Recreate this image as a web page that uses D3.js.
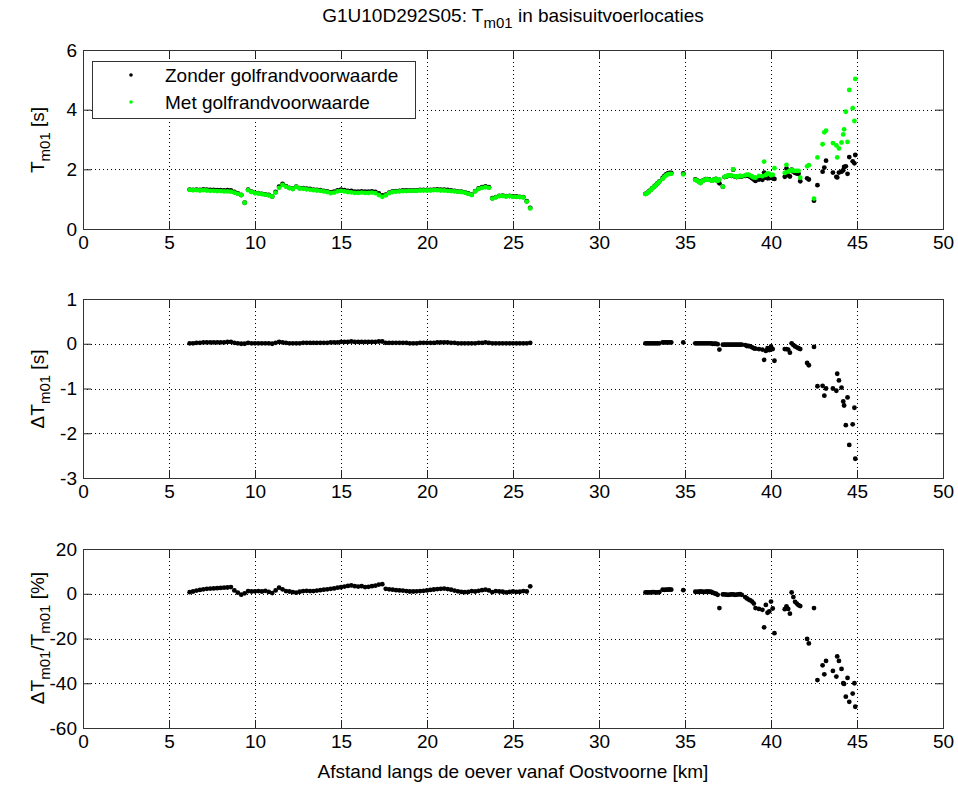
<!DOCTYPE html>
<html>
<head>
<meta charset="utf-8">
<script src="https://cdnjs.cloudflare.com/ajax/libs/d3/7.8.5/d3.min.js"></script>
<style>
body { margin: 0; background: #fff; }
svg { display: block; font-family: "Liberation Sans", Arial, sans-serif; }
</style>
</head>
<body>
<svg id="fig" width="958" height="787"></svg>
<script>
// ---- data ----
var xTicks = [0, 5, 10, 15, 20, 25, 30, 35, 40, 45, 50];
var yTicksT = [0, 2, 4, 6];
var yTicksD = [-3, -2, -1, 0, 1];
var yTicksP = [-60, -40, -20, 0, 20];

// first stretch of the coast (km)
var km1 = [6.2,6.4,6.6,6.8,7.0,7.2,7.4,7.6,7.8,8.0,
    8.2,8.4,8.6,8.8,9.0,9.2,9.4,9.6,9.8,10.0,
    10.2,10.4,10.6,10.8,11.0,11.2,11.4,11.6,11.8,12.0,
    12.2,12.4,12.6,12.8,13.0,13.2,13.4,13.6,13.8,14.0,
    14.2,14.4,14.6,14.8,15.0,15.2,15.4,15.6,15.8,16.0,
    16.2,16.4,16.6,16.8,17.0,17.2,17.4,17.6,17.8,18.0,
    18.2,18.4,18.6,18.8,19.0,19.2,19.4,19.6,19.8,20.0,
    20.2,20.4,20.6,20.8,21.0,21.2,21.4,21.6,21.8,22.0,
    22.2,22.4,22.6,22.8,23.0,23.2,23.4,23.6,23.8,24.0,
    24.2,24.4,24.6,24.8,25.0,25.2,25.4,25.6,25.8,26.0];
var zonder1 = [1.32,1.31,1.32,1.31,1.33,1.32,1.31,1.31,1.30,1.30,
    1.29,1.30,1.29,1.24,1.19,1.14,0.88,1.32,1.25,1.21,
    1.20,1.18,1.16,1.14,1.09,1.24,1.42,1.51,1.44,1.38,
    1.35,1.42,1.37,1.37,1.35,1.34,1.32,1.31,1.30,1.28,
    1.26,1.23,1.25,1.29,1.32,1.30,1.28,1.28,1.25,1.25,
    1.26,1.25,1.25,1.26,1.24,1.19,1.13,1.15,1.22,1.26,
    1.27,1.28,1.29,1.29,1.29,1.29,1.29,1.31,1.31,1.31,
    1.31,1.32,1.33,1.32,1.32,1.31,1.29,1.28,1.26,1.25,
    1.23,1.19,1.15,1.27,1.36,1.40,1.43,1.40,1.03,1.07,
    1.11,1.12,1.10,1.11,1.09,1.09,1.08,1.07,0.93,0.71];
var met1 = [1.31,1.30,1.30,1.29,1.30,1.29,1.28,1.28,1.27,1.27,
    1.26,1.26,1.25,1.22,1.18,1.14,0.88,1.30,1.24,1.20,
    1.19,1.17,1.15,1.13,1.09,1.22,1.38,1.48,1.42,1.37,
    1.34,1.41,1.36,1.35,1.33,1.32,1.30,1.29,1.28,1.26,
    1.24,1.20,1.22,1.26,1.28,1.26,1.24,1.23,1.21,1.21,
    1.22,1.21,1.21,1.22,1.20,1.14,1.08,1.13,1.20,1.24,
    1.25,1.26,1.27,1.27,1.28,1.28,1.28,1.29,1.29,1.29,
    1.29,1.30,1.30,1.29,1.29,1.28,1.27,1.26,1.25,1.24,
    1.22,1.18,1.14,1.26,1.34,1.38,1.40,1.38,1.02,1.06,
    1.10,1.11,1.09,1.10,1.08,1.08,1.07,1.06,0.92,0.69];
var dT1 = [0.01,0.01,0.02,0.02,0.03,0.03,0.03,0.03,0.03,0.03,
    0.03,0.04,0.04,0.02,0.01,0.00,0.00,0.02,0.01,0.01,
    0.01,0.01,0.01,0.01,0.00,0.02,0.04,0.03,0.02,0.01,
    0.01,0.01,0.01,0.02,0.02,0.02,0.02,0.02,0.02,0.02,
    0.02,0.03,0.03,0.03,0.04,0.04,0.04,0.05,0.04,0.04,
    0.04,0.04,0.04,0.04,0.04,0.05,0.05,0.02,0.02,0.02,
    0.02,0.02,0.02,0.02,0.01,0.01,0.01,0.02,0.02,0.02,
    0.02,0.02,0.03,0.03,0.03,0.03,0.02,0.02,0.01,0.01,
    0.01,0.01,0.01,0.01,0.02,0.02,0.03,0.02,0.01,0.01,
    0.01,0.01,0.01,0.01,0.01,0.01,0.01,0.01,0.01,0.02];
var pct1 = [0.7,1.0,1.4,1.7,2.0,2.2,2.3,2.4,2.5,2.6,
    2.7,2.8,3.0,1.5,0.5,-0.4,0.2,1.2,1.0,1.1,
    1.2,1.0,1.3,0.8,0.3,1.5,2.7,2.0,1.2,1.0,
    0.7,0.5,0.9,1.2,1.3,1.2,1.2,1.4,1.6,1.8,
    2.0,2.2,2.4,2.7,2.9,3.2,3.5,3.7,3.4,3.2,
    3.4,3.0,3.1,3.4,3.6,4.1,4.3,2.2,2.0,1.8,
    1.6,1.5,1.4,1.2,1.0,1.0,1.1,1.2,1.3,1.5,
    1.7,1.9,2.1,2.2,2.3,2.1,1.8,1.4,1.1,0.8,
    0.7,0.8,1.2,1.0,1.3,1.6,1.8,1.5,0.7,1.2,
    1.0,0.9,0.6,0.8,1.0,0.8,0.9,1.2,1.0,3.3];

// second stretch (km)
var km2 = [32.7,32.8,32.9,33.0,33.1,33.2,33.3,33.4,33.5,33.7,33.8,33.9,34.0,34.1,34.2,34.9,
    35.6,35.7,35.8,35.9,36.0,36.1,36.2,36.3,36.4,36.5,36.6,36.7,36.8,36.9,37.0,
    37.2,37.3,37.4,37.5,37.6,37.7,37.8,37.9,38.0,38.1,38.2,38.3,
    38.5,38.6,38.7,38.8,38.9,39.0,39.1,39.3,39.5,39.6,39.7,39.8,39.9,40.0,40.1,40.2,
    40.8,40.9,41.0,41.1,41.2,41.3,41.4,41.5,41.6,41.7,
    42.1,42.2,42.5,42.7,43.0,43.1,43.2,43.6,43.8,43.85,43.95,44.1,44.2,44.25,44.35,44.45,44.55,44.75,44.85,44.9];
var zonder2 = [1.18,1.21,1.26,1.31,1.37,1.42,1.47,1.53,1.59,1.71,1.78,1.83,1.86,1.88,1.88,1.86,
    1.66,1.63,1.59,1.55,1.61,1.64,1.67,1.67,1.66,1.64,1.63,1.66,1.68,1.60,1.53,
    1.42,1.74,1.76,1.78,1.79,1.78,1.99,1.76,1.74,1.75,1.77,1.76,
    1.78,1.79,1.78,1.74,1.70,1.66,1.61,1.66,1.65,1.89,1.72,1.70,1.71,1.74,1.70,1.68,
    1.75,2.03,1.80,1.76,1.99,1.92,1.88,1.86,1.85,1.60,
    1.70,1.66,0.95,1.47,1.92,2.06,2.29,1.89,1.75,1.73,1.89,1.92,1.97,2.08,2.10,1.85,2.41,2.27,2.20,2.48];
var met2 = [1.17,1.20,1.25,1.30,1.36,1.41,1.46,1.52,1.58,1.68,1.75,1.80,1.83,1.85,1.85,1.83,
    1.65,1.62,1.58,1.54,1.60,1.63,1.66,1.66,1.65,1.63,1.62,1.66,1.68,1.61,1.66,
    1.42,1.75,1.77,1.79,1.80,1.79,2.00,1.77,1.75,1.76,1.78,1.77,
    1.80,1.82,1.82,1.79,1.76,1.73,1.72,1.78,1.77,2.26,1.81,1.86,1.85,1.80,1.82,2.04,
    1.88,2.15,1.92,1.96,1.98,1.95,1.95,1.95,1.95,1.72,
    2.10,2.14,1.02,2.40,2.84,3.24,3.30,2.88,2.80,2.40,2.70,2.90,3.17,3.34,3.93,2.92,4.66,4.05,3.62,5.03];
var dT2 = [0.01,0.01,0.01,0.01,0.01,0.01,0.01,0.01,0.01,0.03,0.03,0.03,0.03,0.03,0.03,0.03,
    0.01,0.01,0.01,0.01,0.01,0.01,0.01,0.01,0.01,0.01,0.00,0.00,0.00,-0.01,-0.13,
    -0.02,-0.02,-0.02,-0.02,-0.02,-0.02,-0.02,-0.02,-0.02,-0.02,-0.02,-0.02,
    -0.03,-0.05,-0.05,-0.06,-0.08,-0.10,-0.11,-0.12,-0.13,-0.36,-0.16,-0.10,-0.14,-0.06,-0.12,-0.38,
    -0.12,-0.12,-0.13,-0.20,0.01,-0.03,-0.06,-0.08,-0.10,-0.12,
    -0.43,-0.48,-0.07,-0.95,-0.94,-1.16,-1.00,-1.00,-1.05,-0.67,-0.82,-0.98,-1.29,-1.38,-1.82,-1.20,-2.26,-1.80,-1.43,-2.57];
var pct2 = [0.6,0.6,0.6,0.6,0.7,0.7,0.6,0.6,0.7,1.8,1.7,1.8,1.8,1.9,1.8,1.6,
    0.9,0.8,0.9,1.0,0.9,0.8,0.9,1.0,0.9,0.9,0.6,0.2,0.0,-0.5,-6.4,
    -0.3,-0.3,-0.4,-0.5,-0.4,-0.3,-0.3,-0.5,-0.4,-0.3,-0.2,-0.5,
    -1.5,-2.1,-2.6,-3.0,-3.5,-4.4,-6.4,-6.8,-7.2,-15.0,-5.0,-8.5,-7.9,-3.5,-6.6,-17.6,
    -6.9,-5.6,-6.8,-8.9,0.6,-1.5,-3.6,-4.4,-5.1,-5.5,
    -20.2,-22.2,-6.4,-38.6,-32.0,-36.0,-30.0,-34.5,-37.0,-28.0,-30.0,-33.6,-40.0,-40.3,-46.0,-37.6,-48.3,-44.6,-40.0,-50.5];

var seriesNames = ["Zonder golfrandvoorwaarde", "Met golfrandvoorwaarde"];
var seriesColors = ["#000000", "#00ff00"];

// ---- layout ----
var svg = d3.select("#fig");
var left = 83, right = 943, panelH = 179;
var tops = [50, 299, 549];
var fontSize = 19;

var x = d3.scaleLinear().domain([0, 50]).range([left, right]);

function pairs(xs, ys) {
    return xs.map(function(d, i) { return [d, ys[i]]; });
}

function plain(d) { return String(d); }

function drawPanel(top, yDomain, yTicks, series) {
    var y = d3.scaleLinear().domain(yDomain).range([top + panelH, top]);
    var g = svg.append("g");

    // dotted grid
    g.selectAll("line.gx").data(xTicks.slice(1, -1)).enter().append("line")
        .attr("x1", function(d) { return Math.round(x(d)) + 0.5; })
        .attr("x2", function(d) { return Math.round(x(d)) + 0.5; })
        .attr("y1", top).attr("y2", top + panelH)
        .attr("stroke", "#000").attr("stroke-dasharray", "1,3").attr("stroke-width", 1);
    g.selectAll("line.gy").data(yTicks.slice(1, -1)).enter().append("line")
        .attr("y1", function(d) { return Math.round(y(d)) + 0.5; })
        .attr("y2", function(d) { return Math.round(y(d)) + 0.5; })
        .attr("x1", left).attr("x2", right)
        .attr("stroke", "#000").attr("stroke-dasharray", "1,3").attr("stroke-width", 1);

    // data points
    series.forEach(function(s) {
        g.append("g").selectAll("circle").data(s.pts).enter().append("circle")
            .attr("cx", function(d) { return x(d[0]); })
            .attr("cy", function(d) { return y(d[1]); })
            .attr("r", 2.4)
            .attr("fill", s.color);
    });

    // axes with inward ticks on all four sides
    g.append("g").attr("transform", "translate(0," + (top + panelH) + ")")
        .call(d3.axisBottom(x).tickValues(xTicks).tickSizeInner(-8).tickSizeOuter(0)
            .tickPadding(7).tickFormat(plain));
    g.append("g").attr("transform", "translate(0," + top + ")")
        .call(d3.axisTop(x).tickValues(xTicks).tickSizeInner(-8).tickSizeOuter(0).tickFormat(""));
    g.append("g").attr("transform", "translate(" + left + ",0)")
        .call(d3.axisLeft(y).tickValues(yTicks).tickSizeInner(-8).tickSizeOuter(0)
            .tickPadding(6).tickFormat(plain));
    g.append("g").attr("transform", "translate(" + right + ",0)")
        .call(d3.axisRight(y).tickValues(yTicks).tickSizeInner(-8).tickSizeOuter(0).tickFormat(""));

    g.selectAll(".domain").remove();
    g.selectAll(".tick line").attr("stroke", "#222");
    g.selectAll(".tick text").attr("font-size", fontSize).attr("fill", "#000")
        .attr("font-family", "Liberation Sans, Arial, sans-serif");

    g.append("rect")
        .attr("x", left + 0.5).attr("y", top + 0.5)
        .attr("width", right - left).attr("height", panelH)
        .attr("fill", "none").attr("stroke", "#333");
    return g;
}

// rotated y label with subscripts; parts = [[text, isSub], ...]
function yLabel(cx, cy, parts) {
    var t = svg.append("text")
        .attr("transform", "translate(" + cx + "," + cy + ") rotate(-90)")
        .attr("text-anchor", "middle")
        .attr("font-size", fontSize);
    var down = false;
    parts.forEach(function(p) {
        var ts = t.append("tspan").text(p[0]);
        if (p[1]) {
            ts.attr("font-size", 15);
            if (!down) { ts.attr("dy", 6); down = true; }
        } else if (down) {
            ts.attr("dy", -6); down = false;
        }
    });
}

drawPanel(tops[0], [0, 6], yTicksT, [
    { color: seriesColors[0], pts: pairs(km1, zonder1).concat(pairs(km2, zonder2)) },
    { color: seriesColors[1], pts: pairs(km1, met1).concat(pairs(km2, met2)) }
]);
drawPanel(tops[1], [-3, 1], yTicksD, [
    { color: "#000", pts: pairs(km1, dT1).concat(pairs(km2, dT2)) }
]);
drawPanel(tops[2], [-60, 20], yTicksP, [
    { color: "#000", pts: pairs(km1, pct1).concat(pairs(km2, pct2)) }
]);

// legend
var leg = svg.append("g");
leg.append("rect").attr("x", 92.5).attr("y", 61.5).attr("width", 323).attr("height", 57)
    .attr("fill", "#fff").attr("stroke", "#333");
seriesNames.forEach(function(name, i) {
    var cy = 75 + i * 27;
    leg.append("circle").attr("cx", 131).attr("cy", cy).attr("r", 1.8).attr("fill", seriesColors[i]);
    leg.append("text").attr("x", 165).attr("y", cy + 7).attr("font-size", fontSize).text(name);
});

// labels
yLabel(44, 140, [["T", false], ["m01", true], [" [s]", false]]);
yLabel(44, 389, [["\u0394T", false], ["m01", true], [" [s]", false]]);
yLabel(44, 638, [["\u0394T", false], ["m01", true], ["/T", false], ["m01", true], [" [%]", false]]);

var title = svg.append("text").attr("x", 513).attr("y", 22).attr("text-anchor", "middle")
    .attr("font-size", 19);
title.append("tspan").text("G1U10D292S05: T");
title.append("tspan").attr("dy", 6).attr("font-size", 15).text("m01");
title.append("tspan").attr("dy", -6).text(" in basisuitvoerlocaties");

svg.append("text").attr("x", 513).attr("y", 778).attr("text-anchor", "middle")
    .attr("font-size", fontSize)
    .text("Afstand langs de oever vanaf Oostvoorne [km]");
</script>
</body>
</html>
